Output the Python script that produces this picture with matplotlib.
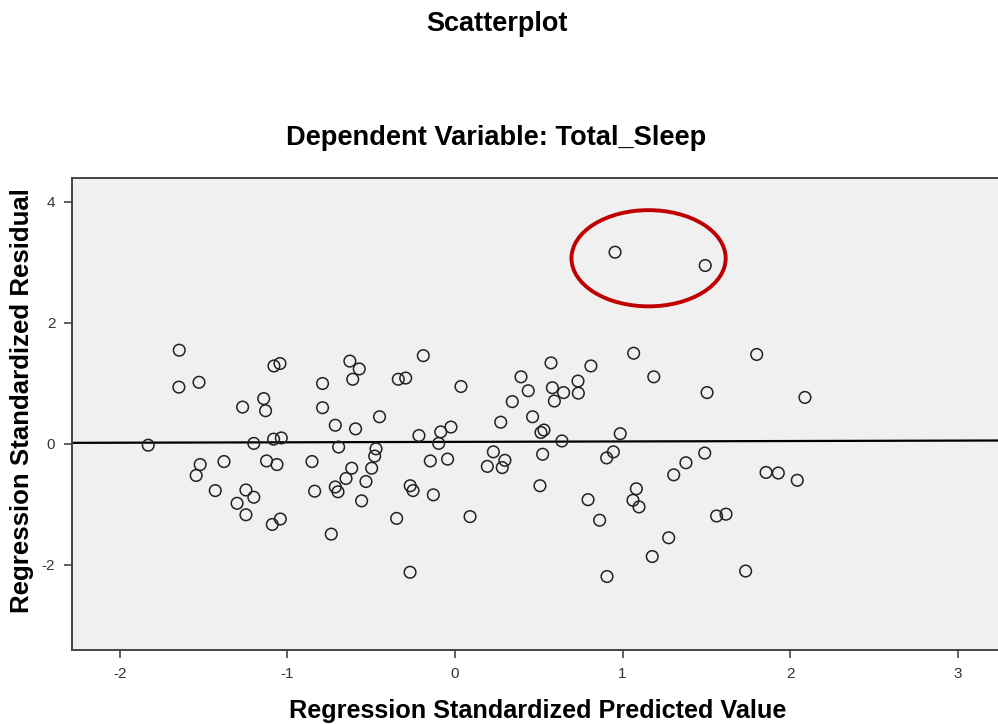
import numpy as np
import matplotlib
matplotlib.use("Agg")
import matplotlib.pyplot as plt
from matplotlib.patches import Ellipse

# standardized predicted values (x) and standardized residuals (y)
pred = [-1.645, -1.647, -1.527, -1.267, -1.141, -1.13, -1.08, -1.044, -0.79, -0.79,
        -0.627, -0.571, -0.61, -0.45, -0.714, -0.593, -1.83, -1.52, -1.544, -1.378,
        -1.43, -1.247, -1.20, -1.30, -1.247, -1.20, -1.082, -1.036, -1.124, -1.062,
        -1.09, -1.042, -0.853, -0.837, -0.694, -0.714, -0.698, -0.738, -0.616, -0.65,
        -0.531, -0.557, -0.471, -0.479, -0.497, -0.348, 0.955, 1.493, -0.189, -0.338,
        -0.294, 0.036, 0.394, 0.573, 0.811, 1.066, 1.186, 1.504, 0.437, 0.581,
        0.734, 0.648, 0.736, 0.342, 0.593, 0.463, 0.273, 1.80, 2.088, -0.215,
        -0.085, -0.024, -0.097, -0.147, -0.044, -0.267, -0.25, -0.129, 0.09, -0.268,
        0.531, 0.513, 0.638, 0.986, 0.229, 0.298, 0.193, 0.282, 0.523, 0.507,
        0.945, 0.905, 0.794, 0.863, 0.907, 1.082, 1.062, 1.098, 1.275, 1.177,
        1.305, 1.378, 1.49, 1.561, 1.856, 1.929, 2.042, 1.617, 1.734]
resid = [1.55, 0.94, 1.02, 0.61, 0.75, 0.55, 1.29, 1.33, 1.00, 0.60,
         1.37, 1.24, 1.07, 0.45, 0.31, 0.25, -0.02, -0.34, -0.52, -0.29,
         -0.77, -0.76, -0.88, -0.98, -1.17, 0.01, 0.08, 0.10, -0.28, -0.34,
         -1.33, -1.24, -0.29, -0.78, -0.05, -0.71, -0.79, -1.49, -0.40, -0.57,
         -0.62, -0.94, -0.08, -0.20, -0.40, -1.23, 3.17, 2.95, 1.46, 1.07,
         1.09, 0.95, 1.11, 1.34, 1.29, 1.50, 1.11, 0.85, 0.88, 0.93,
         1.04, 0.85, 0.84, 0.70, 0.71, 0.45, 0.36, 1.48, 0.77, 0.14,
         0.20, 0.28, 0.01, -0.28, -0.25, -0.69, -0.77, -0.84, -1.20, -2.12,
         0.23, 0.19, 0.05, 0.17, -0.13, -0.27, -0.37, -0.39, -0.17, -0.69,
         -0.13, -0.23, -0.92, -1.26, -2.19, -0.74, -0.93, -1.04, -1.55, -1.86,
         -0.51, -0.31, -0.15, -1.19, -0.47, -0.48, -0.60, -1.16, -2.10]

# fit line as drawn (nearly flat)
fit_intercept = 0.035
fit_slope = 0.007

# highlighted outliers: centre and size of the red ring
ring_center = (1.155, 3.07)
ring_size = (0.92, 1.59)

xticks = [-2, -1, 0, 1, 2, 3]
yticks = [-2, 0, 2, 4]

plt.rcParams['font.family'] = ['Liberation Sans', 'DejaVu Sans']
plt.rcParams['axes.unicode_minus'] = False

fig = plt.figure(figsize=(9.98, 7.24), dpi=100)
ax = fig.add_axes([0.0721, 0.1022, 0.933, 0.652])
ax.set_facecolor('#f0f0f0')

ax.scatter(pred, resid, s=70, facecolors='none', edgecolors='#222222', linewidths=1.1, zorder=3)

xl = np.array([-2.3, 3.3])
ax.plot(xl, fit_intercept + fit_slope * xl, color='black', lw=1.6, zorder=2)

ax.add_patch(Ellipse(ring_center, ring_size[0], ring_size[1], fill=False,
                     edgecolor='#c00000', lw=2.8, zorder=4))

ax.set_xlim(-2.285, 3.27)
ax.set_ylim(-3.405, 4.397)
ax.set_xticks(xticks)
ax.set_yticks(yticks)
ax.tick_params(length=6, width=1.3, color='#555555', labelcolor='#333333', labelsize=11, pad=6)
for sp in ax.spines.values():
    sp.set_color('#444444')
    sp.set_linewidth(1.4)

fig.text(0.498, 1 - 24 / 724, 'Scatterplot', ha='center', va='center',
         fontsize=19.5, fontweight='bold')
fig.text(0.497, 1 - 138 / 724, 'Dependent Variable: Total_Sleep', ha='center', va='center',
         fontsize=19.6, fontweight='bold')
fig.text(0.539, 1 - 711 / 724, 'Regression Standardized Predicted Value', ha='center', va='center',
         fontsize=18.2, fontweight='bold')
fig.text(22 / 998, 1 - 401 / 724, 'Regression Standardized Residual', ha='center', va='center',
         rotation=90, fontsize=18.6, fontweight='bold')

fig.savefig('out.png', dpi=100)
